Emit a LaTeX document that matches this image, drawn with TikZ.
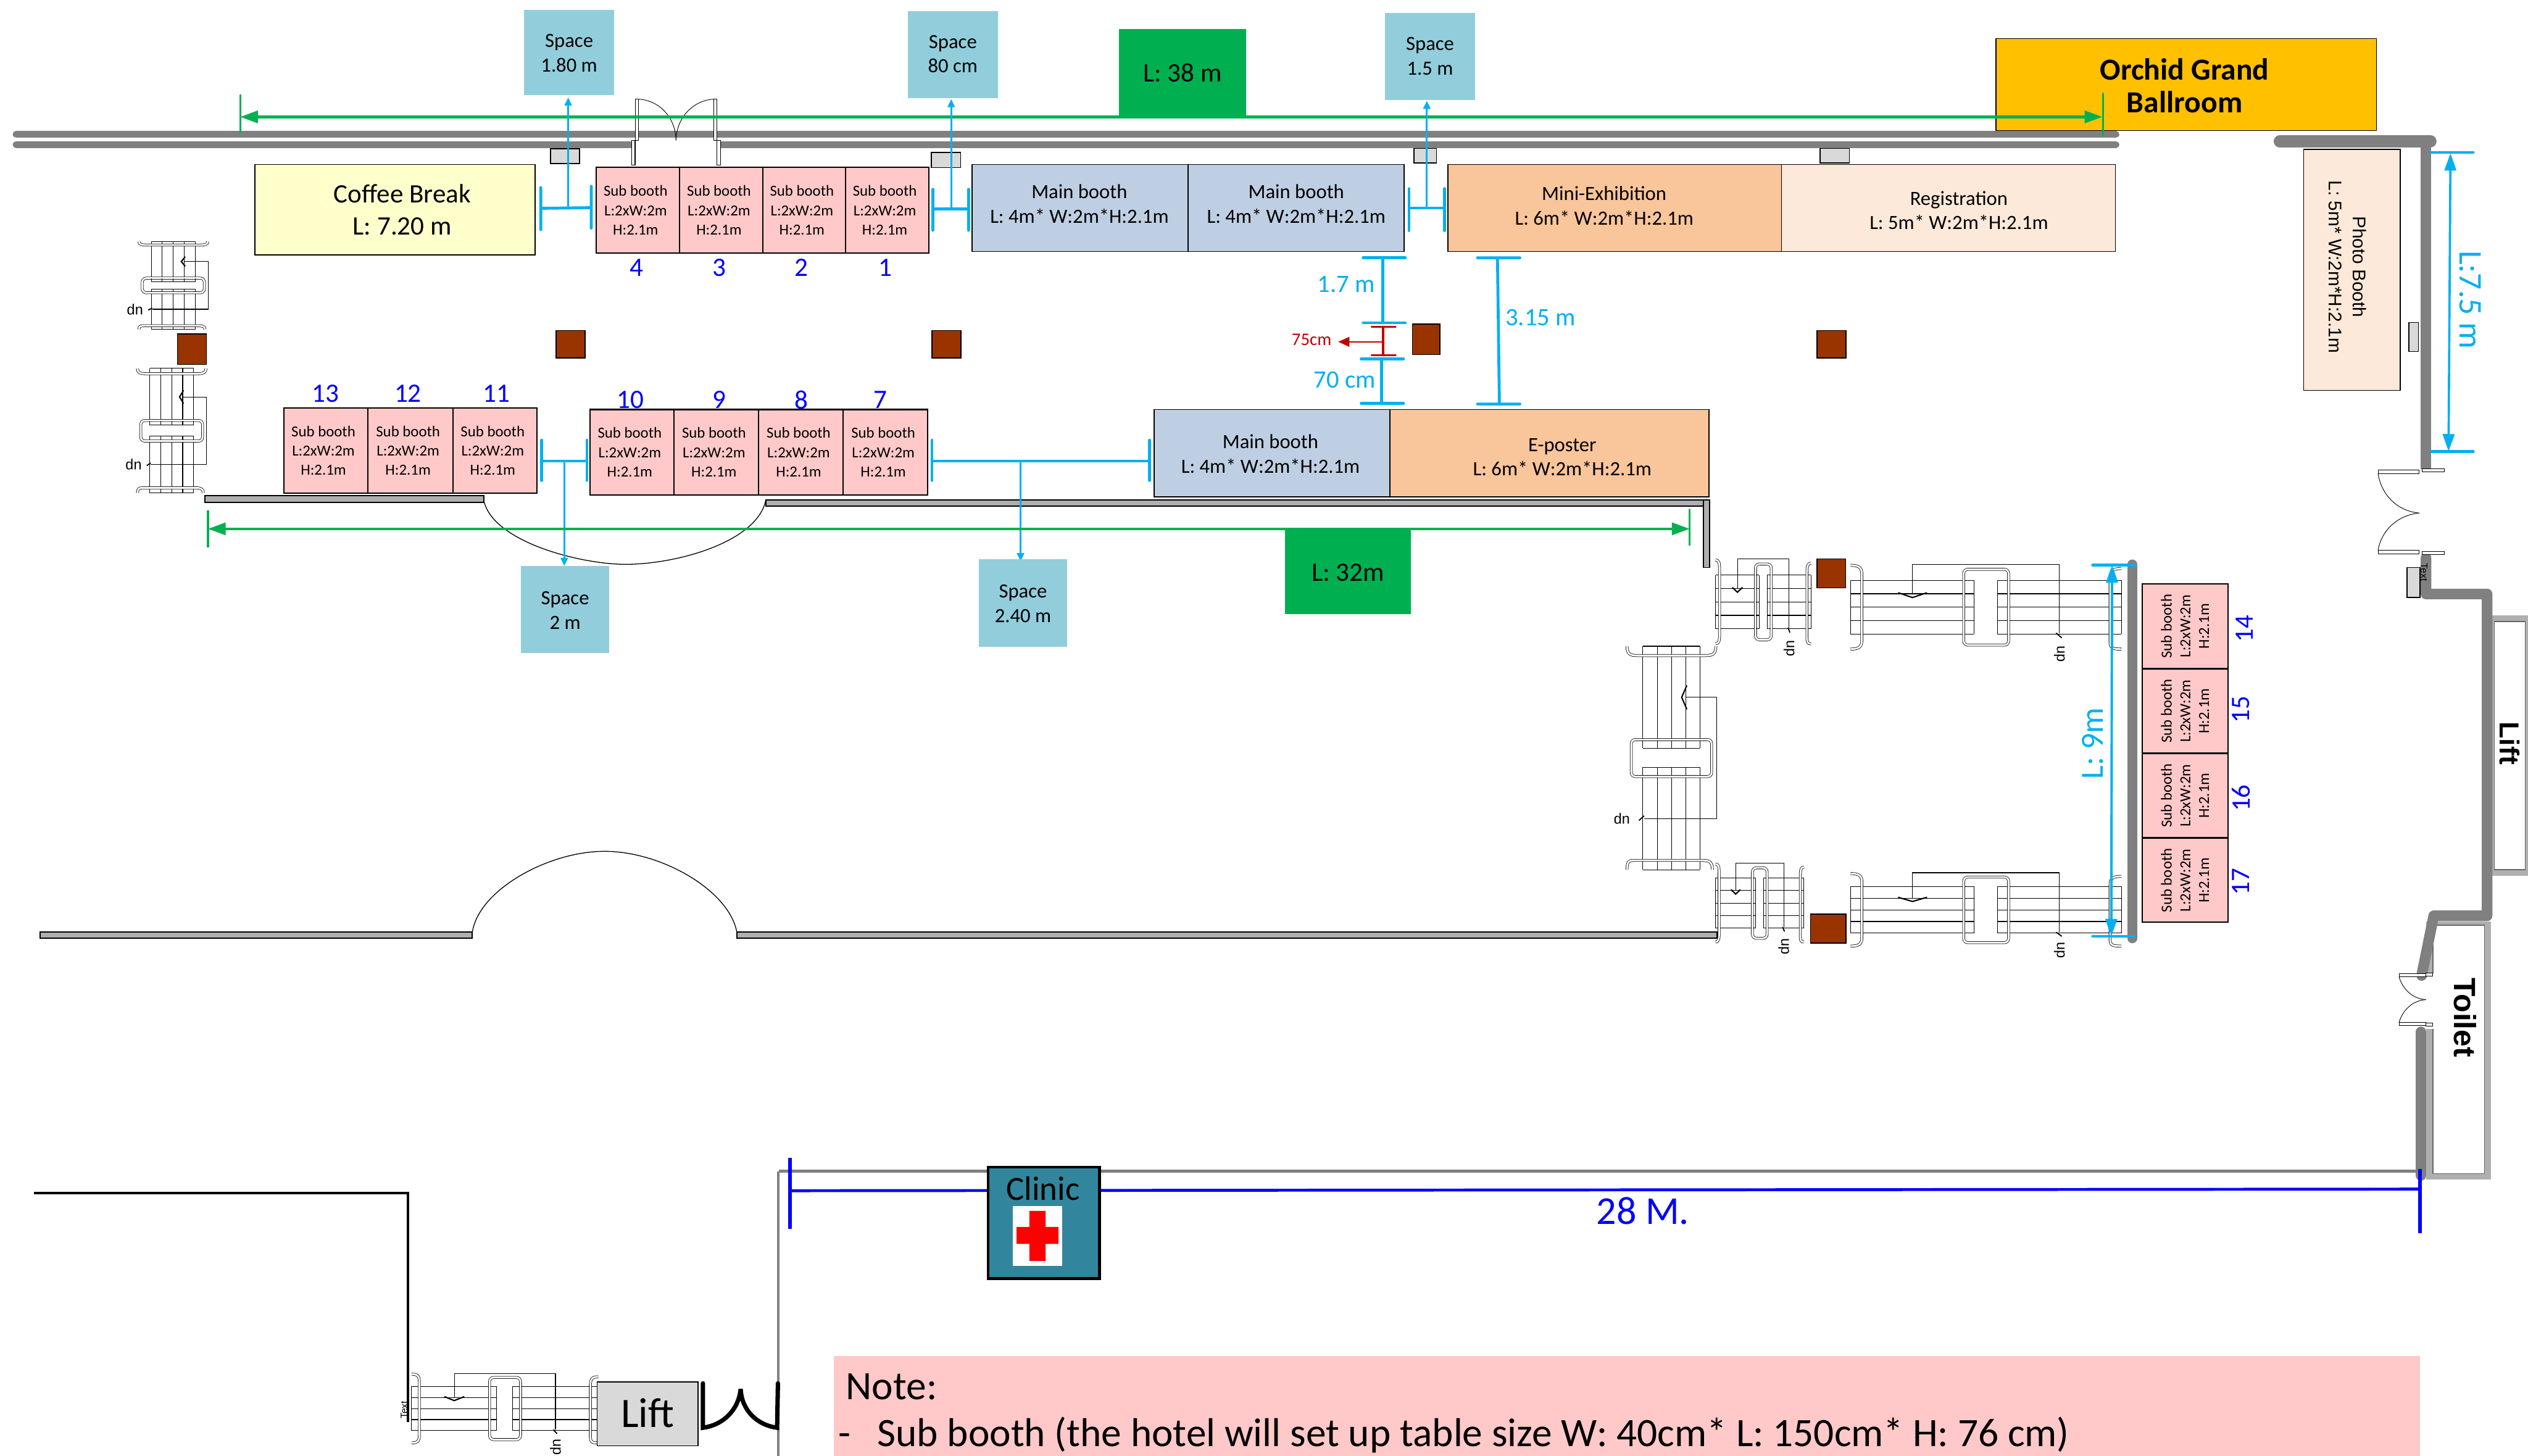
\documentclass[tikz,border=0pt]{standalone}
\usepackage{fontspec}
\setmainfont{Carlito}
\newfontfamily\arialf{Liberation Sans}
\usetikzlibrary{arrows.meta}
\definecolor{cwall}{HTML}{808080}
\definecolor{cbar}{HTML}{AFAFAF}
\definecolor{cspace}{HTML}{92CDDC}
\definecolor{cpink}{HTML}{FFC9C9}
\definecolor{cmain}{HTML}{BFCFE3}
\definecolor{corange}{HTML}{F9C59B}
\definecolor{cpeach}{HTML}{FDE9D9}
\definecolor{cyellow}{HTML}{FFFFCC}
\definecolor{cgreen}{HTML}{00B050}
\definecolor{ccyan}{HTML}{00B0F0}
\definecolor{cbrown}{HTML}{993300}
\definecolor{cgold}{HTML}{FFC000}
\definecolor{cclinic}{HTML}{31859C}
\definecolor{cred}{HTML}{C00000}
\definecolor{cgrey}{HTML}{D9D9D9}
\newcommand\fs[1]{\pgfmathsetmacro\fsbase{#1*1.22}\fontsize{#1}{\fsbase}\selectfont}
\tikzset{
  subbooth/.style={draw=black,line width=.8pt,fill=cpink},
  mainbooth/.style={draw=black,line width=.7pt,fill=cmain},
  orangebooth/.style={draw=black,line width=.7pt,fill=corange},
  peachbooth/.style={draw=black,line width=.5pt,fill=cpeach},
  spacebox/.style={fill=cspace},
  greenbox/.style={fill=cgreen},
  column/.style={draw=black,line width=.6pt,fill=cbrown},
  smallbox/.style={draw=black,line width=.6pt,fill=cgrey},
  barwall/.style={draw=black,line width=.7pt,fill=cbar},
  wall/.style={draw=cwall,line width=4.2pt,line cap=round,line join=round},
  fatwall/.style={draw=cwall,line width=6.6pt,line cap=round,line join=round},
  thinwall/.style={draw=cwall,line width=1.8pt},
  doorleaf/.style={draw=black,line width=.4pt,fill=white},
  doorarc/.style={draw=black,line width=.35pt},
  dimcyan/.style={draw=ccyan,line width=1.1pt,line cap=round},
  dimcyanT/.style={draw=ccyan,line width=1.8pt,line cap=round},
  dimgreen/.style={draw=cgreen,line width=1.7pt,line cap=round},
  dimblue/.style={draw=blue,line width=1.8pt},
  arr/.style={-{Triangle[length=5pt,width=4.5pt]}},
  arrbig/.style={{Triangle[length=10.8pt,width=7.2pt]}-{Triangle[length=10.8pt,width=7.2pt]}},
  arrgreen/.style={{Triangle[length=11pt,width=7.5pt]}-{Triangle[length=11pt,width=7.5pt]}},
  stairbase/.style={draw=black,line width=.4pt},
  stairband/.style={draw=black,line width=.3pt,double=white,double distance=1.1pt},
  boothtext/.style={align=center,font=\fs{9.5},inner sep=0pt},
  lbl/.style={align=center,inner sep=0pt},
  numtext/.style={text=blue,font=\fs{16.5},inner sep=0pt},
  cyantext/.style={text=ccyan,inner sep=0pt},
}
\newcommand\sbth[5]{% name x1 y1 x2 y2
  \path[subbooth] (#2,#3) rectangle (#4,#5);
  \node[boothtext] (#1) at ({(#2+#4)/2-1.4},{(#3+#5)/2}) {Sub booth\\[.4pt]L:2xW:2m\\[.4pt]H:2.1m};}
\newcommand\sbthv[5]{% rotated
  \path[subbooth] (#2,#3) rectangle (#4,#5);
  \node[boothtext,rotate=90] (#1) at ({(#2+#4)/2},{(#3+#5)/2}) {Sub booth\\L:2xW:2m\\H:2.1m};}
\newcommand\stairs[7]{% x y rot sx sy textrot name
\begin{scope}[shift={(#1,#2)},rotate=#3,xscale=#4,yscale=#5]
  \foreach \v in {-16.7,-8.35,0,8.35,16.7} \draw[stairbase] (0,\v)--(168,\v);
  \draw[stairbase] (0,-16.7)--(0,16.7) (168,-16.7)--(168,16.7);
  \draw[stairband] (0,-26) .. controls (6,-26) and (7,-24) .. (7,-20) -- (7,20) .. controls (7,24) and (6,26) .. (0,26);
  \draw[stairband] (168,-24) .. controls (162,-24) and (161,-22) .. (161,-18) -- (161,22) .. controls (161,25) and (162,26) .. (168,26);
  \draw[stairband,fill=white,rounded corners=2.5pt] (70.2,-23.5) rectangle (98,23.5);
  \foreach \v in {-16.7,-8.35,0,8.35,16.7} \draw[stairbase] (71,\v)--(76.6,\v) (91,\v)--(97,\v);
  \draw[stairbase] (76.6,-16.7)--(76.6,16.7) (91,-16.7)--(91,16.7);
  \draw[stairbase] (38.4,-8.4)--(38.4,-26.6)--(129.5,-26.6)--(129.5,16);
  \draw[draw=black,line width=.8pt] (29.5,-9)--(38.4,-6)--(47.4,-9);
  \draw[draw=black,line width=.7pt] (127.5,16)--(131,19);
  \node[font=\arialf\fs{9},inner sep=0pt,rotate=#6] (#7) at (129.5,29) {up};
\end{scope}}
\begin{document}
\begin{tikzpicture}[x=1pt,y=-1pt]
\useasboundingbox (0,0) rectangle (1568,903);
\fill[white] (0,0) rectangle (1568,903);

% ---- top walls
\draw[wall] (10,83.4)--(1312.4,83.4);
\draw[wall] (10,89.7)--(391.7,89.7) (446.9,89.7)--(1312.4,89.7);

% ---- top door
\draw[doorarc] (396.1,61.5) .. controls (408,62) and (419,72) .. (419.3,87);
\draw[doorarc] (442.7,61.5) .. controls (431,62) and (419.6,72) .. (419.3,87);
\path[doorleaf] (394.1,61.5) rectangle (396.1,87);
\path[doorleaf] (391.7,87) rectangle (393.9,102.5);
\path[doorleaf] (442.7,61.5) rectangle (444.5,87);
\path[doorleaf] (444.7,87) rectangle (446.9,102.5);

% ---- small boxes
\path[smallbox] (341.5,92.3) rectangle (359.4,101.4);
\path[smallbox] (577.7,94.6) rectangle (595.8,103.9);
\path[smallbox] (877,92) rectangle (891,101);
\path[smallbox] (1129,92) rectangle (1147,101);
\path[smallbox] (1494,200) rectangle (1500,218);
\path[smallbox] (1493,352) rectangle (1501,370.6);

% ---- top green
\path[greenbox] (694,18) rectangle (773,72);
\node[lbl,font=\fs{16.5}] (len38) at (733.5,45) {L: 38 m};
\path[draw=black,line width=.6pt,fill=cgold] (1238,24) rectangle (1474,81);
\node[lbl,font=\fs{19}\bfseries] (orchid) at (1355,53) {Orchid Grand\\[-3pt]Ballroom};
\draw[dimgreen,arrgreen] (149,72.5)--(1304,72.5);
\draw[dimgreen,line width=1.3pt] (149,59)--(149,82) (1304.3,58)--(1304.3,83.8);

% ---- space boxes
\path[spacebox] (325,6) rectangle (381,59);
\node[lbl,font=\fs{12.5}] (sp180) at (353,33) {Space\\1.80 m};
\path[spacebox] (563,7) rectangle (619,61);
\node[lbl,font=\fs{12.5}] (sp80) at (591,33.5) {Space\\80 cm};
\path[spacebox] (859,8) rectangle (915,62);
\node[lbl,font=\fs{12.5}] (sp15) at (887,35) {Space\\1.5 m};

% ---- top row
\path[draw=black,line width=.6pt,fill=cyellow] (158,102) rectangle (332,158);
\node[lbl,font=\fs{16.5}] (coffee) at (249.5,130) {Coffee Break\\L: 7.20 m};
\sbth{sb4}{369.8}{103.6}{421.5}{157.1}
\sbth{sb3}{421.5}{103.6}{473.2}{157.1}
\sbth{sb2}{473.2}{103.6}{524.4}{157.1}
\sbth{sb1}{524.4}{103.6}{576}{157.1}
\path[mainbooth] (603,102) rectangle (737,156);
\node[lbl,font=\fs{12.5}] (mb1) at (669.5,126.5) {Main booth\\L: 4m* W:2m*H:2.1m};
\path[mainbooth] (737,102) rectangle (871,156);
\node[lbl,font=\fs{12.5}] (mb2) at (804,126.5) {Main booth\\L: 4m* W:2m*H:2.1m};
\path[orangebooth] (898,102) rectangle (1105,156);
\node[lbl,font=\fs{12.5}] (mini) at (995,127.5) {Mini-Exhibition\\L: 6m* W:2m*H:2.1m};
\path[peachbooth] (1105,102) rectangle (1312,156);
\node[lbl,font=\fs{12.5}] (reg) at (1215,130.5) {Registration\\L: 5m* W:2m*H:2.1m};
\path[peachbooth] (1428.7,92.6) rectangle (1488.7,242);
\node[rotate=-90,lbl,font=\arialf\fs{11.4}] (photo) at (1456,165.5) {Photo Booth\\[1.2pt]L: 5m* W:2m*H:2.1m};
\node[numtext] (n4) at (394.9,166) {4};
\node[numtext] (n3) at (446,166) {3};
\node[numtext] (n2) at (497,166) {2};
\node[numtext] (n1) at (549,166) {1};

% ---- top dims
\draw[dimcyanT] (335.4,116.3)--(335.4,142.4) (366.7,115.5)--(366.7,141.5) (335.4,129.2)--(366.7,128.8);
\draw[dimcyan,arr] (352.4,129)--(352.4,60.5);
\draw[dimcyanT] (578.6,117.4)--(578.6,142.8) (600.7,117.4)--(600.7,142.8) (578.6,129.6)--(600.7,129.6);
\draw[dimcyan,arr] (590,129.6)--(590,61.5);
\draw[dimcyanT] (874,117)--(874,143) (896,117)--(896,143) (874,129)--(896,129);
\draw[dimcyan,arr] (885,129)--(885,62.5);

% ---- columns
\path[column] (110,207) rectangle (128,226);
\path[column] (345,205) rectangle (363,222);
\path[column] (578,205) rectangle (596,222);
\path[column] (876,201) rectangle (893,220);
\path[column] (1127,205) rectangle (1145,222);
\path[column] (1127,346.6) rectangle (1144.8,364.6);
\path[column] (1123,567) rectangle (1145,585);

% ---- middle dims
\draw[dimcyanT] (845.5,159.9)--(871.6,159.9) (845.5,200.2)--(871.6,200.2) (857.8,159.9)--(857.8,200.2);
\draw[dimcyanT] (844.3,222.6)--(870.5,222.6) (844.3,250.1)--(870.5,250.1) (856.8,222.6)--(856.8,250.1);
\draw[dimcyanT] (916.4,159.9)--(942.7,159.9) (916.4,250.6)--(942.7,250.6) (928.8,159.9)--(930,250.6);
\draw[draw=cred,line width=1.5pt,line cap=round] (851,202.7)--(865.4,202.7) (851,220.3)--(865.4,220.3) (857.8,202.7)--(857.8,220.3);
\draw[draw=cred,line width=1pt,-{Triangle[length=7pt,width=6pt]}] (857.8,212)--(830,212);
\node[cyantext,font=\fs{15.5}] (d17) at (835,176.5) {1.7 m};
\node[cyantext,font=\fs{15.5}] (d70) at (834,235.5) {70 cm};
\node[cyantext,font=\fs{15.5}] (d315) at (955.5,197) {3.15 m};
\node[text=cred,inner sep=0pt,font=\fs{11}] (d75) at (813.5,210.5) {75cm};

% ---- second row wall
\path[barwall] (127,307.4) rectangle (300,311.6);
\path[barwall] (475,310) rectangle (1060,314);
\path[barwall] (1056.7,310) rectangle (1060.4,352);
\draw[draw=black,line width=.5pt] (300,310) .. controls (305,336) and (360,350) .. (388,350) .. controls (420,350) and (470,336) .. (475,310);

% ---- second row
\sbth{sb13}{176}{253}{228}{306}
\sbth{sb12}{228}{253}{281}{306}
\sbth{sb11}{281}{253}{333}{306}
\sbth{sb10}{366}{254}{418}{307}
\sbth{sb9}{418}{254}{470.5}{307}
\sbth{sb8}{470.5}{254}{523}{307}
\sbth{sb7}{523}{254}{575.5}{307}
\path[mainbooth] (716,254) rectangle (862,308);
\node[lbl,font=\fs{12.5}] (mb3) at (788,281.5) {Main booth\\L: 4m* W:2m*H:2.1m};
\path[orangebooth] (862,254) rectangle (1060,308);
\node[lbl,font=\fs{12.5}] (epost) at (969,283.5) {E-poster\\L: 6m* W:2m*H:2.1m};
\node[numtext] (n13) at (202,244) {13};
\node[numtext] (n12) at (253,244) {12};
\node[numtext] (n11) at (308,244) {11};
\node[numtext] (n10) at (391,248) {10};
\node[numtext] (n9) at (446,248) {9};
\node[numtext] (n8) at (497,248) {8};
\node[numtext] (n7) at (546,248) {7};

% ---- second row dims
\draw[dimcyanT] (336,273)--(336,298) (364,273)--(364,298) (336,286)--(364,286);
\draw[dimcyan,arr] (350,286)--(350,351);
\draw[dimcyanT] (578,273)--(578,298) (713,273)--(713,298) (578,286)--(713,286);
\draw[dimcyan,arr] (633,286)--(633,348);
\path[spacebox] (323,351) rectangle (378,405);
\node[lbl,font=\fs{12.5}] (sp2) at (350.5,378.5) {Space\\2 m};
\path[spacebox] (607,347) rectangle (662,401);
\node[lbl,font=\fs{12.5}] (sp240) at (634.5,374.5) {Space\\2.40 m};
\draw[dimgreen,arrgreen] (129,328)--(1048,328);
\draw[dimgreen,line width=1.3pt] (129,317)--(129,339) (1048,316)--(1048,338);
\path[greenbox] (797,329) rectangle (875,381);
\node[lbl,font=\fs{16.5}] (len32) at (836,355) {L: 32m};

% ---- stairs
\stairs{107.5}{149.7}{-90}{.325}{.82}{180}{upa}
\stairs{106.5}{228.5}{-90}{.46}{.815}{180}{upb}
\stairs{1147.8}{376.6}{0}{1}{1}{-90}{upc}
\stairs{1064.1}{373.3}{0}{.352}{1}{-90}{upd}
\stairs{1064}{560.1}{0}{.327}{.93}{-90}{upe}
\stairs{1147.8}{564.3}{0}{1}{.865}{-90}{upf}
\stairs{1036.7}{400.8}{-90}{.825}{1.06}{180}{upg}
\stairs{255.3}{873.6}{0}{.689}{.82}{-90}{uph}

% ---- lower wall
\path[barwall] (25,578) rectangle (293,582);
\path[barwall] (457,578) rectangle (1065,582);
\draw[draw=black,line width=.5pt] (293,578) .. controls (297,552) and (340,528) .. (375,528) .. controls (410,528) and (452,552) .. (457,578);

% ---- right side wall + sub booths
\draw[fatwall,line width=6pt] (1322.5,350)--(1322.5,582);
\sbthv{sb14}{1328.6}{362.3}{1382}{414.5}
\sbthv{sb15}{1328.6}{415}{1382}{467}
\sbthv{sb16}{1328.6}{467.5}{1382}{519.5}
\sbthv{sb17}{1328.6}{520}{1382}{572}
\node[numtext,rotate=90] (n14) at (1392,390) {14};
\node[numtext,rotate=90] (n15) at (1390,440) {15};
\node[numtext,rotate=90] (n16) at (1390,495) {16};
\node[numtext,rotate=90] (n17) at (1390,547) {17};
\draw[draw=ccyan,line width=1.5pt,arrbig] (1310,350.5)--(1309.5,580.7);
\draw[dimcyanT] (1298,350.5)--(1324,350.5) (1298,580.7)--(1324,580.7);
\node[cyantext,rotate=90,font=\fs{20}] (l9) at (1298,461) {L: 9m};

% ---- lift + toilet rooms
\fill[cbar] (1545.7,381.6) rectangle (1568,543.3);
\path[draw=black!60,line width=.5pt,fill=white] (1547,385.5) rectangle (1566.2,539.4);
\node[rotate=-90,inner sep=0pt,font=\arialf\fs{17}\bfseries] (liftr) at (1556.5,461) {Lift};
\fill[cbar] (1504.7,571.7) rectangle (1545,731.6);
\path[draw=black!60,line width=.5pt,fill=white] (1509,573.8) rectangle (1541,727.8);
\fill[white] (1504,603.7) rectangle (1509.8,638);
\node[rotate=-90,inner sep=0pt,font=\arialf\fs{19}\bfseries] (toilet) at (1529,631) {Toilet};

% ---- far right walls
\draw[fatwall,line width=7.5pt] (1414,87.7)--(1507.5,87.7);
\draw[fatwall,line width=6.6pt,line cap=butt] (1504.5,87.5)--(1504.5,291);
\draw[fatwall,line width=6.6pt] (1504.7,346)--(1504.7,368.4)--(1542.6,368.4)--(1542.6,568)--(1509.5,568)--(1502,605);
\draw[fatwall] (1501.6,640)--(1501.6,729);

% ---- right doors
\draw[doorarc] (1475,293.7) .. controls (1477,307) and (1487,317) .. (1500.5,318.2);
\draw[doorarc] (1475,341.3) .. controls (1477,329) and (1487,319.5) .. (1500.5,318.2);
\path[doorleaf] (1475,291.5) rectangle (1500.5,293.7);
\path[doorleaf] (1475,341.3) rectangle (1500.5,343.6);
\path[doorleaf] (1502.3,290.7) rectangle (1516,292.5);
\path[doorleaf] (1502.3,342) rectangle (1516,344);
\draw[doorarc] (1488,605.8) .. controls (1490,613) and (1496,619.5) .. (1504.7,620);
\draw[doorarc] (1488,634.2) .. controls (1490,627) and (1496,620.5) .. (1504.7,620);
\path[doorleaf] (1488,604) rectangle (1504.7,605.8);
\path[doorleaf] (1488,634.2) rectangle (1504.7,636);
\path[doorleaf] (1504.7,603.5) rectangle (1509,605.5);
\path[doorleaf] (1504.7,634.5) rectangle (1509,636.5);
\node[rotate=-90,inner sep=0pt,font=\arialf\fs{6}] (txtr) at (1503.5,355) {Text};

% ---- 7.5 m dim
\draw[draw=ccyan,line width=1.4pt,arrbig] (1519.9,95)--(1518.7,280);
\draw[dimcyanT] (1508,94.5)--(1534,94.5) (1508,280)--(1534,280);
\node[cyantext,rotate=-90,font=\fs{20.5}] (l75) at (1532,186) {L:7.5 m};

% ---- bottom lines
\draw[thinwall] (483,726.5)--(1500,726.5);
\draw[thinwall] (482.7,726.5)--(482.7,858) (482.7,885)--(482.7,903);
\draw[draw=black,line width=1.3pt] (21,740)--(253,740)--(253,882);
\draw[dimblue] (490,738.5)--(1501,737.5);
\draw[draw=blue,line width=2pt] (490,718)--(490,762) (1501,725)--(1501,765);
\node[text=blue,inner sep=0pt,font=\fs{24.5}] (d28) at (1019,751) {28 M.};

% ---- clinic
\path[draw=black,line width=1.6pt,fill=cclinic] (613,724) rectangle (682,793);
\node[inner sep=0pt,font=\fs{21}] (clinic) at (647,737) {Clinic};
\fill[white] (628,748) rectangle (659,785);
\fill[red] (638.5,751) rectangle (648.5,782) (630.5,761) rectangle (656.5,771.5);

% ---- bottom-left lift
\path[draw=black,line width=.6pt,fill=cgrey] (370.4,857.2) rectangle (433,896.7);
\node[inner sep=0pt,font=\fs{26}] (liftb) at (401.7,876.5) {Lift};
\node[rotate=90,inner sep=0pt,font=\arialf\fs{6}] (txtb) at (250.7,874.5) {Text};
\draw[draw=black,line width=2.7pt,line cap=round] (436,858)--(436,885.5) .. controls (448,884) and (458,875) .. (459.4,861.5) .. controls (460,875) and (470,884) .. (482,885.5)--(482.5,858);

% ---- note
\fill[cpink] (517,841) rectangle (1501,903);
\node[anchor=base west,inner sep=0pt,font=\fs{25}] (note) at (524.5,868) {Note:};
\node[anchor=base west,inner sep=0pt,font=\fs{25}] (dash) at (520,897) {-};
\node[anchor=base west,inner sep=0pt,font=\fs{25}] (notetext) at (544,897) {Sub booth (the hotel will set up table size W: 40cm* L: 150cm* H: 76 cm)};
\end{tikzpicture}
\end{document}
